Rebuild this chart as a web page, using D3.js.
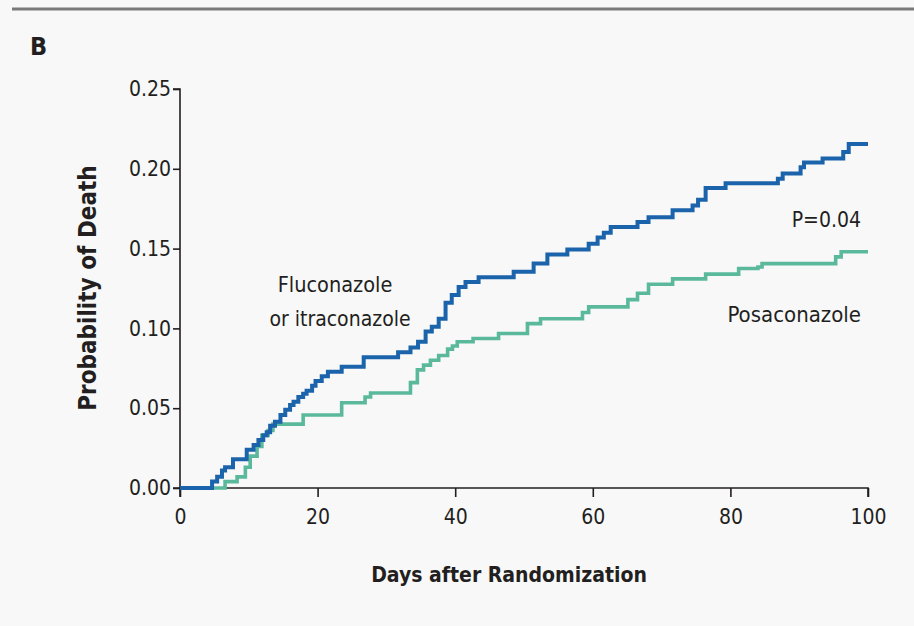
<!DOCTYPE html>
<html>
<head>
<meta charset="utf-8">
<script src="https://cdn.jsdelivr.net/npm/d3@7"></script>
<style>
  html, body { margin: 0; padding: 0; background: #f8f8f8; }
  svg { display: block; }
  text { font-family: "DejaVu Sans Condensed", "DejaVu Sans", sans-serif; fill: #231f20; }
</style>
</head>
<body>
<svg id="chart" width="914" height="626"></svg>
<script>
// ---- data (days, cumulative probability of death; step-after) ----
const flucDays = [0, 4.66, 5.4, 6.1, 6.55, 7.7, 9.7, 10.7, 11.4, 12.1, 12.6, 13.1, 13.8, 14.6, 15.3, 16.0, 16.5, 17.2, 17.9, 18.4, 19.2, 19.7, 20.6, 21.5, 23.5, 26.7, 31.7, 33.5, 34.6, 35.7, 36.6, 37.6, 38.6, 39.5, 40.5, 41.5, 43.4, 48.5, 51.4, 53.4, 56.3, 59.4, 60.7, 61.6, 62.6, 66.5, 68.1, 71.6, 74.5, 75.3, 76.4, 79.3, 86.9, 87.6, 90.2, 90.7, 93.4, 96.4, 97.2, 100];
const flucProb = [0, 0.004, 0.007, 0.011, 0.013, 0.018, 0.024, 0.027, 0.030, 0.033, 0.035, 0.039, 0.0415, 0.0457, 0.049, 0.052, 0.054, 0.057, 0.059, 0.061, 0.064, 0.067, 0.070, 0.0728, 0.076, 0.082, 0.085, 0.088, 0.0916, 0.098, 0.101, 0.106, 0.116, 0.121, 0.126, 0.129, 0.132, 0.1355, 0.1406, 0.1463, 0.1494, 0.153, 0.157, 0.160, 0.1635, 0.1666, 0.1697, 0.174, 0.177, 0.1806, 0.188, 0.191, 0.1937, 0.197, 0.201, 0.204, 0.2065, 0.2105, 0.2156, 0.2156];

const posaDays = [0, 6.55, 8.3, 9.5, 10.2, 11.2, 11.9, 12.8, 13.5, 17.9, 23.5, 26.9, 27.7, 33.5, 34.5, 35.4, 36.4, 37.6, 38.9, 39.6, 40.3, 42.6, 46.3, 50.5, 52.4, 58.5, 59.4, 65.1, 66.5, 68.1, 71.6, 76.4, 81.2, 84.0, 84.6, 95.3, 96.1, 100];
const posaProb = [0, 0.004, 0.007, 0.013, 0.020, 0.026, 0.033, 0.036, 0.040, 0.0457, 0.0534, 0.057, 0.0595, 0.066, 0.074, 0.077, 0.080, 0.083, 0.087, 0.089, 0.0916, 0.0937, 0.0968, 0.103, 0.106, 0.110, 0.1135, 0.118, 0.122, 0.1277, 0.131, 0.134, 0.1375, 0.1385, 0.1406, 0.1448, 0.148, 0.148];

const xTicks = [0, 20, 40, 60, 80, 100];
const yTicks = [0, 0.05, 0.10, 0.15, 0.20, 0.25];

const seriesNames = ["Fluconazole", "or itraconazole", "Posaconazole"];
const pValueLabel = "P=0.04";
const panelLabel = "B";
const xTitle = "Days after Randomization";
const yTitle = "Probability of Death";

// ---- drawing ----
const svg = d3.select("#chart");
const x = d3.scaleLinear().domain([0, 100]).range([180, 868]);
const y = d3.scaleLinear().domain([0, 0.25]).range([488, 89]);

// top rule
svg.append("line").attr("x1", 12).attr("x2", 914).attr("y1", 9).attr("y2", 9)
  .attr("stroke", "#7a7a7a").attr("stroke-width", 3);

svg.append("text").attr("x", 30).attr("y", 55)
  .attr("font-size", 25).attr("font-weight", "bold").text(panelLabel);

// axes
const xAxis = svg.append("g").attr("transform", "translate(0,488)")
  .call(d3.axisBottom(x).tickValues(xTicks).tickSize(9).tickPadding(12).tickFormat(d3.format("d")));
const yAxis = svg.append("g").attr("transform", "translate(180,0)")
  .call(d3.axisLeft(y).tickValues(yTicks).tickSize(7).tickPadding(2).tickFormat(d3.format(".2f")));
[xAxis, yAxis].forEach(g => {
  g.attr("font-size", null);
  g.select(".domain").attr("stroke", "#231f20").attr("stroke-width", 1.6);
  g.selectAll(".tick line").attr("stroke", "#231f20").attr("stroke-width", 1.6);
  g.selectAll(".tick text").attr("fill", "#231f20")
    .style("font-size", "21px")
    .style("font-family", "'DejaVu Sans Condensed', sans-serif");
});
yAxis.select(".domain").attr("d", `M-7,${y(0.25)}H0V${y(0)}H-7`);
xAxis.select(".domain").attr("d", `M${x(0)},9V0H${x(100)}V9`);

// curves
const line = d3.line().x(d => x(d[0])).y(d => y(d[1])).curve(d3.curveStepAfter);
const posa = posaDays.map((d, i) => [d, posaProb[i]]);
const fluc = flucDays.map((d, i) => [d, flucProb[i]]);
svg.append("path").datum(posa).attr("d", line).attr("fill", "none")
  .attr("stroke", "#5ab99b").attr("stroke-width", 3.6);
svg.append("path").datum(fluc).attr("d", line).attr("fill", "none")
  .attr("stroke", "#1b63aa").attr("stroke-width", 4);

// labels
svg.append("text").attr("x", 335).attr("y", 292).attr("text-anchor", "middle")
  .attr("font-size", 21.5).text(seriesNames[0]);
svg.append("text").attr("x", 340).attr("y", 326).attr("text-anchor", "middle")
  .attr("font-size", 21).text(seriesNames[1]);
svg.append("text").attr("x", 861).attr("y", 227).attr("text-anchor", "end")
  .attr("font-size", 21).text(pValueLabel);
svg.append("text").attr("x", 861).attr("y", 322).attr("text-anchor", "end")
  .attr("font-size", 22).text(seriesNames[2]);

// axis titles
svg.append("text").attr("x", 509).attr("y", 582).attr("text-anchor", "middle")
  .attr("font-size", 21).attr("font-weight", "bold").text(xTitle);
svg.append("text").attr("transform", "translate(96,288) rotate(-90)").attr("text-anchor", "middle")
  .attr("font-size", 24).attr("font-weight", "bold").text(yTitle);
</script>
</body>
</html>
